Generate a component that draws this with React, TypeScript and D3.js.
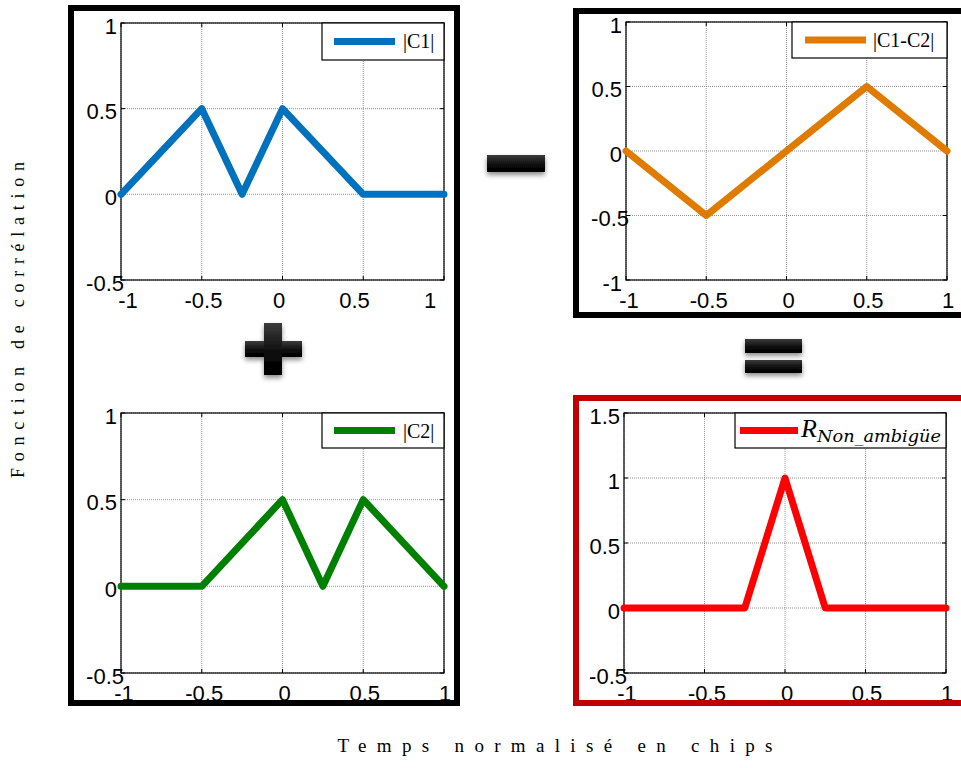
import React from "react";
import * as d3 from "d3";

// ---------- data ----------
const xTicks = [-1, -0.5, 0, 0.5, 1];
const yTicksC1 = [-0.5, 0, 0.5, 1];
const yTicksDiff = [-1, -0.5, 0, 0.5, 1];
const yTicksR = [-0.5, 0, 0.5, 1, 1.5];

const c1X = [-1, -0.5, -0.25, 0, 0.5, 1];
const c1Y = [0, 0.5, 0, 0.5, 0, 0];

const c2X = [-1, -0.5, 0, 0.25, 0.5, 1];
const c2Y = [0, 0, 0.5, 0, 0.5, 0];

const diffX = [-1, -0.5, 0, 0.5, 1];
const diffY = [0, -0.5, 0, 0.5, 0];

const rX = [-1, -0.25, 0, 0.25, 1];
const rY = [0, 0, 1, 0, 0];

const yAxisTitle = "Fonction de corrélation";
const xAxisTitle = "Temps normalisé en chips";

// ---------- panel ----------
type PanelProps = {
  box: { l: number; r: number; t: number; b: number };
  yDomain: [number, number];
  yTicks: number[];
  xs: number[];
  ys: number[];
  color: string;
  legend: { x0: number; y1: number; s0: number; s1: number };
  legendLabel: React.ReactNode;
  labelRange?: [number, number];
};

const fmt = (v: number) => String(v);

function Panel({ box, yDomain, yTicks, xs, ys, color, legend, legendLabel, labelRange }: PanelProps) {
  const x = d3.scaleLinear().domain([-1, 1]).range([box.l, box.r]);
  const y = d3.scaleLinear().domain(yDomain).range([box.b, box.t]);
  const xl = d3.scaleLinear().domain([-1, 1]).range(labelRange ?? [box.l + 3, box.r + 1]);
  const line = d3
    .line<number>()
    .x((_, i) => x(xs[i]))
    .y((d) => y(d));
  const font = "'Liberation Sans', Arial, sans-serif";
  return (
    <g>
      <rect x={box.l} y={box.t} width={box.r - box.l} height={box.b - box.t} fill="#fff" />
      {xTicks.map((t) => (
        <line key={"gx" + t} x1={x(t)} x2={x(t)} y1={box.t} y2={box.b} stroke="#777" strokeWidth={0.8} strokeDasharray="1,1" />
      ))}
      {yTicks.map((t) => (
        <line key={"gy" + t} x1={box.l} x2={box.r} y1={y(t)} y2={y(t)} stroke="#777" strokeWidth={0.8} strokeDasharray="1,1" />
      ))}
      {xTicks.map((t) => (
        <g key={"tx" + t}>
          <line x1={x(t)} x2={x(t)} y1={box.b} y2={box.b - 4} stroke="#000" />
          <line x1={x(t)} x2={x(t)} y1={box.t} y2={box.t + 4} stroke="#000" />
        </g>
      ))}
      {yTicks.map((t) => (
        <g key={"ty" + t}>
          <line x1={box.l} x2={box.l + 4} y1={y(t)} y2={y(t)} stroke="#000" />
          <line x1={box.r} x2={box.r - 4} y1={y(t)} y2={y(t)} stroke="#000" />
        </g>
      ))}
      <rect x={box.l} y={box.t} width={box.r - box.l} height={box.b - box.t} fill="none" stroke="#000" strokeWidth={1.2} />
      <path d={line(ys) ?? ""} fill="none" stroke={color} strokeWidth={7} strokeLinejoin="round" strokeLinecap="round" />
      {yTicks.map((t) => (
        <text
          key={"ly" + t}
          x={box.l - 4 + (t === -0.5 ? 7 : 0)}
          y={y(t) + 3}
          textAnchor="end"
          dominantBaseline="central"
          fontFamily={font}
          fontSize={22}
          fill="#000"
        >
          {fmt(t)}
        </text>
      ))}
      {xTicks.map((t) => (
        <text key={"lx" + t} x={xl(t)} y={box.b + 28} textAnchor="middle" fontFamily={font} fontSize={22} fill="#000">
          {fmt(t)}
        </text>
      ))}
      <rect x={legend.x0} y={box.t} width={box.r - legend.x0} height={legend.y1 - box.t} fill="#fff" stroke="#000" strokeWidth={1.2} />
      <line
        x1={legend.s0}
        x2={legend.s1}
        y1={(box.t + legend.y1) / 2}
        y2={(box.t + legend.y1) / 2}
        stroke={color}
        strokeWidth={7}
      />
      {legendLabel}
    </g>
  );
}

function Operator({ rects }: { rects: { x: number; y: number; w: number; h: number }[] }) {
  return (
    <g filter="url(#shadow)">
      {rects.map((r, i) => (
        <rect key={i} x={r.x} y={r.y} width={r.w} height={r.h} fill="url(#opGrad)" />
      ))}
    </g>
  );
}

export default function App() {
  const serif = "'Liberation Serif', 'Times New Roman', serif";
  const p1 = { l: 121, r: 444, t: 23, b: 280 };
  const p2 = { l: 121, r: 444, t: 413, b: 673 };
  const p3 = { l: 626, r: 947, t: 22, b: 280 };
  const p4 = { l: 624, r: 946, t: 413, b: 673 };
  return (
    <svg
      width={961}
      height={768}
      viewBox="0 0 961 768"
      style={{ position: "absolute", left: 0, top: 0, background: "#fff" }}
    >
      <defs>
        <linearGradient id="opGrad" x1="0" y1="0" x2="0" y2="1">
          <stop offset="0" stopColor="#3c3c3c" />
          <stop offset="0.6" stopColor="#0a0a0a" />
          <stop offset="1" stopColor="#000" />
        </linearGradient>
        <filter id="shadow" x="-30%" y="-50%" width="160%" height="220%">
          <feDropShadow dx="0" dy="3" stdDeviation="2.5" floodColor="#000" floodOpacity="0.45" />
        </filter>
      </defs>
      <rect x={0} y={0} width={961} height={768} fill="#fff" />

      <Panel
        box={p1}
        yDomain={[-0.5, 1]}
        yTicks={yTicksC1}
        xs={c1X}
        ys={c1Y}
        color="#0072BD"
        legend={{ x0: 322, y1: 60, s0: 334, s1: 395 }}
        labelRange={[128, 430]}
        legendLabel={
          <text x={403} y={48} fontFamily={serif} fontSize={20} fill="#000">
            |C1|
          </text>
        }
      />
      <Panel
        box={p2}
        yDomain={[-0.5, 1]}
        yTicks={yTicksC1}
        xs={c2X}
        ys={c2Y}
        color="#008000"
        legend={{ x0: 322, y1: 448, s0: 334, s1: 395 }}
        legendLabel={
          <text x={403} y={438} fontFamily={serif} fontSize={20} fill="#000">
            |C2|
          </text>
        }
      />
      <Panel
        box={p3}
        yDomain={[-1, 1]}
        yTicks={yTicksDiff}
        xs={diffX}
        ys={diffY}
        color="#DF7C00"
        legend={{ x0: 792, y1: 58, s0: 805, s1: 866 }}
        legendLabel={
          <text x={873} y={47} fontFamily={serif} fontSize={20} fill="#000">
            |C1-C2|
          </text>
        }
      />
      <Panel
        box={p4}
        yDomain={[-0.5, 1.5]}
        yTicks={yTicksR}
        xs={rX}
        ys={rY}
        color="#FF0000"
        legend={{ x0: 735, y1: 448, s0: 740, s1: 798 }}
        legendLabel={
          <text x={801} y={437} fontFamily={serif} fontStyle="italic" fill="#000">
            <tspan fontSize={26}>R</tspan>
            <tspan fontFamily="'DejaVu Serif', serif" fontSize={17} dy={5} x={817} textLength={124} lengthAdjust="spacingAndGlyphs">
              Non_ambigüe
            </tspan>
          </text>
        }
      />

      {/* frames */}
      <rect x={71} y={8} width={386} height={695} fill="none" stroke="#000" strokeWidth={6} />
      <rect x={576} y={11} width={400} height={304} fill="none" stroke="#000" strokeWidth={6} />
      <rect x={576} y={398} width={400} height={305} fill="none" stroke="#C00000" strokeWidth={6} />

      {/* operators */}
      <Operator rects={[{ x: 487, y: 155, w: 58, h: 17 }]} />
      <Operator
        rects={[
          { x: 245, y: 341, w: 57, h: 16 },
          { x: 264, y: 323, w: 18, h: 52 },
        ]}
      />
      <Operator
        rects={[
          { x: 745, y: 339, w: 57, h: 14 },
          { x: 745, y: 360, w: 57, h: 13 },
        ]}
      />

      {/* axis titles */}
      <text
        transform="translate(24,320) rotate(-90)"
        textAnchor="middle"
        fontFamily={serif}
        fontSize={18}
        fill="#000"
        textLength={316}
        lengthAdjust="spacing"
      >
        {yAxisTitle}
      </text>
      <text x={555} y={752} textAnchor="middle" fontFamily={serif} fontSize={19} fill="#000" textLength={435} lengthAdjust="spacing">
        {xAxisTitle}
      </text>
    </svg>
  );
}
